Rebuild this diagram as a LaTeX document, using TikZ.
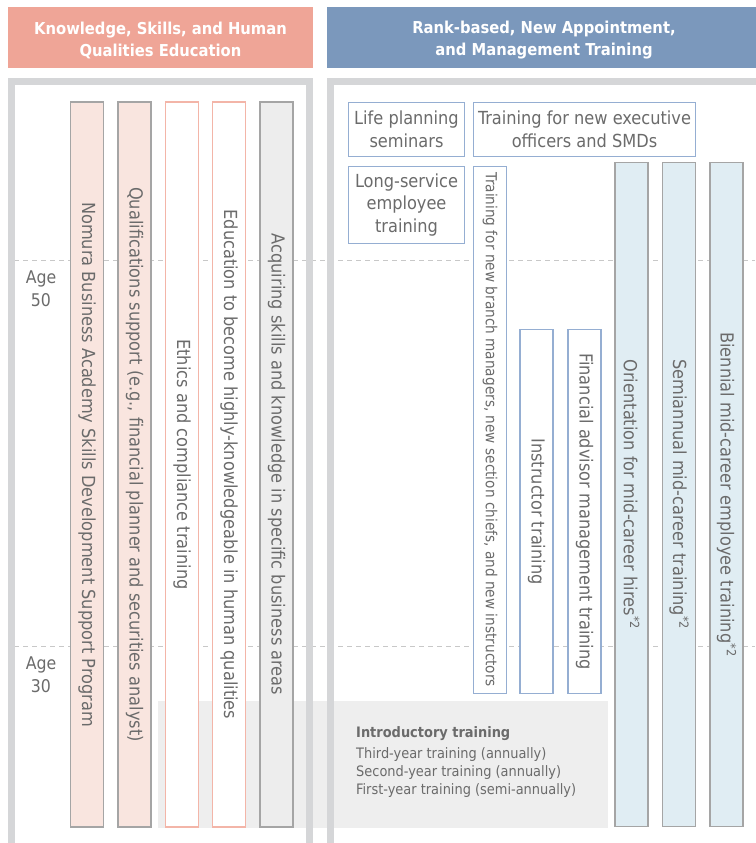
\documentclass[tikz,border=0pt]{standalone}
\usepackage{fontspec}
\setmainfont{DejaVu Sans Condensed}

\definecolor{headL}{HTML}{EFA597}
\definecolor{headR}{HTML}{7B98BC}
\definecolor{framegray}{HTML}{D5D6D8}
\definecolor{txtgray}{HTML}{6B6B6B}
\definecolor{pinkfill}{HTML}{F9E5DF}
\definecolor{pinkline}{HTML}{F3B5A8}
\definecolor{grayline}{HTML}{A5A5A5}
\definecolor{grayfill}{HTML}{EDEDED}
\definecolor{bluefill}{HTML}{E0EDF3}
\definecolor{blueline}{HTML}{95AED2}
\definecolor{introfill}{HTML}{EEEEEE}
\definecolor{dashgray}{HTML}{C8C8C8}

\begin{document}
\begin{tikzpicture}[x=1pt,y=-1pt,
  headbar/.style={fill=#1, inner sep=0pt, anchor=north west, minimum height=61pt},
  headtext/.style={text=white, align=center, inner sep=0pt,
    font=\fontsize{16.4}{22}\selectfont\bfseries},
  panelframe/.style={draw=framegray, line width=6.5pt},
  ageline/.style={draw=dashgray, line width=1.4pt, dash pattern=on 5pt off 4pt},
  agetext/.style={text=txtgray, align=center, inner sep=0pt,
    font=\fontsize{17.5}{23}\selectfont},
  colbox/.style={rotate=-90, inner sep=0pt, line width=1.2pt, text=txtgray,
    minimum height=33pt, font=\fontsize{18}{22}\selectfont},
  salmoncol/.style={colbox, draw=grayline, fill=pinkfill},
  outlinecol/.style={colbox, draw=pinkline, fill=white},
  greycol/.style={colbox, draw=grayline, fill=grayfill},
  bluecol/.style={colbox, draw=blueline, fill=white},
  skycol/.style={colbox, draw=grayline, fill=bluefill},
  trainbox/.style={draw=blueline, fill=white, line width=1.2pt, inner sep=0pt,
    text=txtgray, align=center, font=\fontsize{18}{22.5}\selectfont},
  introline/.style={text=txtgray, inner sep=0pt, anchor=base west,
    font=\fontsize{14.4}{18}\selectfont}
]
\useasboundingbox (0,0) rectangle (755,843);

% headers
\node[headbar=headL, minimum width=305pt] (hdL) at (8,7) {};
\node[headbar=headR, minimum width=440pt] (hdR) at (327,7) {};
\node[headtext] (hdLtext) at (160.5,40.5) {Knowledge, Skills, and Human\\Qualities Education};
\node[headtext] (hdRtext) at (544,40.5) {Rank-based, New Appointment,\\and Management Training};

% age guide lines
\draw[ageline] (14,260.5) -- (755,260.5);
\draw[ageline] (14,646.5) -- (755,646.5);

% introductory training band
\node[fill=introfill, inner sep=0pt, anchor=north west,
      minimum width=450pt, minimum height=127pt] (intro) at (158,701) {};

% panel frames (open at the bottom)
\draw[panelframe] (11.25,850) |- (309.25,81.25) -- (309.25,850);
\draw[panelframe] (330.25,850) |- (760,81.25);

% age labels
\node[agetext] (age50) at (41,288.5) {Age\\50};
\node[agetext] (age30) at (41,675) {Age\\30};

% left panel columns
\node[salmoncol, minimum width=725pt] (nba) at (87,464.5)
  {Nomura Business Academy Skills Development Support Program};
\node[salmoncol, minimum width=725pt] (qual) at (134.5,464.5)
  {Qualifications support (e.g., financial planner and securities analyst)};
\node[outlinecol, minimum width=725pt] (ethics) at (182,464.5)
  {Ethics and compliance training};
\node[outlinecol, minimum width=725pt] (human) at (229,464.5)
  {Education to become highly-knowledgeable in human qualities};
\node[greycol, minimum width=725pt] (skills) at (276.5,464.5)
  {Acquiring skills and knowledge in specific business areas};

% right panel boxes
\node[trainbox, minimum width=116pt, minimum height=54pt] (life) at (406.5,129.5)
  {Life planning\\seminars};
\node[trainbox, minimum width=222pt, minimum height=54pt] (exec) at (584.5,129.5)
  {Training for new executive\\officers and SMDs};
\node[trainbox, minimum width=116pt, minimum height=77pt] (longsvc) at (406.5,205)
  {Long-service\\employee\\training};

\node[bluecol, minimum width=527pt, font=\fontsize{15.2}{18}\selectfont] (branch) at (490,430)
  {Training for new branch managers, new section chiefs, and new instructors};
\node[bluecol, minimum width=364pt] (instr) at (536.5,511.5) {Instructor training};
\node[bluecol, minimum width=364pt] (fa) at (584.5,511.5) {Financial advisor management training};

\node[skycol, minimum width=664pt] (orient) at (631.5,494.5)
  {Orientation for mid-career hires\textsuperscript{*2}};
\node[skycol, minimum width=664pt] (semi) at (679,494.5)
  {Semiannual mid-career training\textsuperscript{*2}};
\node[skycol, minimum width=664pt] (bien) at (726.5,494.5)
  {Biennial mid-career employee training\textsuperscript{*2}};

% introductory training text
\node[introline, font=\fontsize{14.4}{18}\selectfont\bfseries] (introtitle) at (356,737) {Introductory training};
\node[introline] (third) at (356,758) {Third-year training (annually)};
\node[introline] (second) at (356,776) {Second-year training (annually)};
\node[introline] (first) at (356,794) {First-year training (semi-annually)};

\end{tikzpicture}
\end{document}
